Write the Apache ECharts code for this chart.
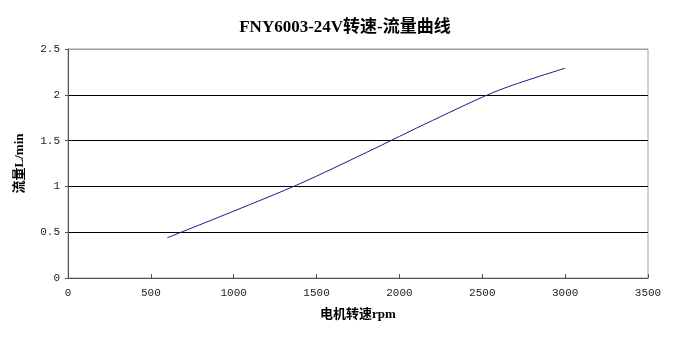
<!DOCTYPE html>
<html>
<head>
<meta charset="utf-8">
<script src="https://cdn.jsdelivr.net/npm/echarts@6/dist/echarts.min.js"></script>
<style>
  html, body { margin: 0; padding: 0; background: #fff; }
  #chart { width: 690px; height: 338px; }
</style>
</head>
<body>
<div id="chart"></div>
<script>
// Motor speed (rpm) vs. flow (L/min) for the FNY6003-24V pump
const speedRpm = [600, 1000, 1400, 1800, 2200, 2600, 3000];
const flowLpm  = [0.44, 0.73, 1.03, 1.37, 1.72, 2.05, 2.29];

const chartTitle = 'FNY6003-24V转速-流量曲线';
const xName = '电机转速rpm';
const yName = '流量L/min';

const tickFont = '"Liberation Mono", "DejaVu Sans Mono", monospace';
const cjkFont = '"Liberation Serif", "Noto Sans CJK SC", serif';

const chart = echarts.init(document.getElementById('chart'));
chart.setOption({
  animation: false,
  backgroundColor: '#fff',
  title: {
    text: chartTitle,
    left: 'center',
    top: 14,
    textStyle: { fontFamily: cjkFont, fontSize: 17, fontWeight: 'bold', color: '#000' }
  },
  grid: { left: 68, right: 42, top: 49, bottom: 60, show: true, borderColor: '#a0a0a0', borderWidth: 1 },
  xAxis: {
    type: 'value',
    min: 0, max: 3500, interval: 500,
    name: xName,
    nameLocation: 'middle',
    nameGap: 30,
    nameTextStyle: { fontFamily: cjkFont, fontSize: 13, fontWeight: 'bold', color: '#000' },
    axisLine: { lineStyle: { color: '#555', width: 1 } },
    axisTick: { show: true, inside: true, length: 4, lineStyle: { color: '#555' } },
    axisLabel: { fontFamily: tickFont, fontSize: 11, color: '#222', margin: 10, formatter: v => String(v) },
    splitLine: { show: false }
  },
  yAxis: {
    type: 'value',
    min: 0, max: 2.5, interval: 0.5,
    name: yName,
    nameLocation: 'middle',
    nameGap: 42,
    nameRotate: 90,
    nameTextStyle: { fontFamily: cjkFont, fontSize: 13, fontWeight: 'bold', color: '#000' },
    axisLine: { show: true, lineStyle: { color: '#555', width: 1 } },
    axisTick: { show: true, length: 3, lineStyle: { color: '#555' } },
    axisLabel: { fontFamily: tickFont, fontSize: 11, color: '#222', margin: 8, formatter: v => String(v) },
    splitLine: { show: true, lineStyle: { color: ['#555', '#000', '#000', '#000', '#000', '#a0a0a0'], width: 1 } }
  },
  series: [{
    type: 'line',
    data: speedRpm.map((s, i) => [s, flowLpm[i]]),
    smooth: 0.3,
    showSymbol: false,
    lineStyle: { color: '#1a1a8c', width: 1 }
  }]
});
</script>
</body>
</html>
